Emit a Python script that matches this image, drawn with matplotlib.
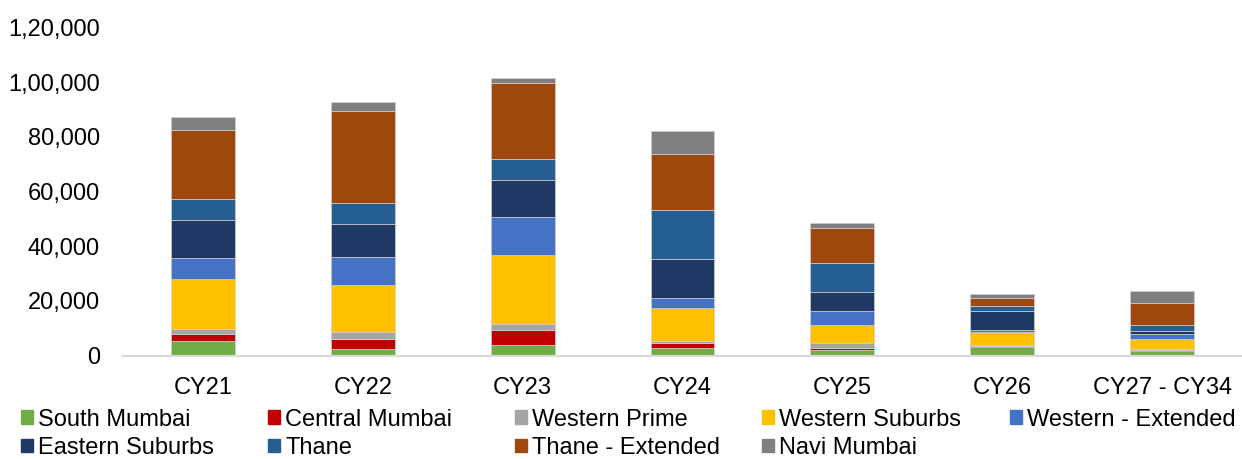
import matplotlib
matplotlib.use("Agg")
import matplotlib.pyplot as plt
from matplotlib.patches import Rectangle
from matplotlib.ticker import FuncFormatter, MultipleLocator
import numpy as np

plt.rcParams['font.family'] = ['Liberation Sans', 'DejaVu Sans']

years = ['CY21', 'CY22', 'CY23', 'CY24', 'CY25', 'CY26', 'CY27 - CY34']

south_mumbai = [5200, 2500, 3700, 2700, 2000, 3000, 1500]
central_mumbai = [2800, 3700, 5600, 1900, 800, 600, 600]
western_prime = [1800, 2300, 2300, 700, 1800, 100, 100]
western_suburbs = [18200, 17400, 25100, 11900, 6600, 4900, 3900]
western_extended = [7700, 10100, 13900, 3800, 4900, 600, 1600]
eastern_suburbs = [13800, 12000, 13400, 14300, 7000, 7100, 1400]
thane = [7700, 7700, 7700, 17800, 10600, 1800, 2200]
thane_extended = [25400, 33600, 28000, 20700, 13000, 3100, 7800]
navi_mumbai = [4500, 3500, 1700, 8300, 1800, 1400, 4600]

series_names = ['South Mumbai', 'Central Mumbai', 'Western Prime', 'Western Suburbs',
                'Western - Extended', 'Eastern Suburbs', 'Thane', 'Thane - Extended', 'Navi Mumbai']
series_values = [south_mumbai, central_mumbai, western_prime, western_suburbs, western_extended,
                 eastern_suburbs, thane, thane_extended, navi_mumbai]
colors = ['#70AD47', '#C00000', '#A5A5A5', '#FFC000', '#4472C4',
          '#203864', '#255E91', '#9E480E', '#7F7F7F']

fs = 17

fig = plt.figure(figsize=(12.42, 4.59), dpi=100)
ax = fig.add_axes([123 / 1242, 1 - 355.5 / 459, 1 - 123 / 1242, (355.5 - 27.3) / 459])

x = np.arange(len(years))
bottom = np.zeros(len(years))
for name, vals, c in zip(series_names, series_values, colors):
    ax.bar(x, vals, width=0.4, bottom=bottom, color=c, edgecolor='#d0d0d0', linewidth=0.5, label=name)
    bottom += np.array(vals)

def indian(v, pos):
    v = int(round(v))
    s = str(v)
    if len(s) <= 3:
        return s
    head, tail = s[:-3], s[-3:]
    parts = []
    while len(head) > 2:
        parts.insert(0, head[-2:])
        head = head[:-2]
    if head:
        parts.insert(0, head)
    return ','.join(parts + [tail])

ax.set_xlim(-0.5, len(years) - 0.5)
ax.set_ylim(0, 120000)
ax.yaxis.set_major_locator(MultipleLocator(20000))
ax.yaxis.set_major_formatter(FuncFormatter(indian))
ax.set_xticks(x)
ax.set_xticklabels(years)
ax.tick_params(axis='y', length=0, pad=16.5, labelsize=fs, colors='black')
ax.tick_params(axis='x', length=0, pad=15.5, labelsize=fs, colors='black')
for s in ['top', 'right', 'left']:
    ax.spines[s].set_visible(False)
ax.spines['bottom'].set_color('#d9d9d9')
ax.spines['bottom'].set_linewidth(1.5)

# legend laid out in equal-width columns like the original
handles = [Rectangle((0, 0), 1, 1, color=c) for c in colors]
col_x = [20.7, 268, 515, 762, 1010]
for i, cx in enumerate(col_x):
    idx = [i, i + 5] if i + 5 < len(series_names) else [i]
    leg = fig.legend([handles[j] for j in idx], [series_names[j] for j in idx],
                     loc='upper left', bbox_to_anchor=(cx / 1242, 1 - 408.5 / 459),
                     frameon=False, fontsize=fs, borderpad=0, borderaxespad=0,
                     handlelength=0.5, handleheight=0.5, handletextpad=0.22,
                     labelspacing=0.26)

fig.savefig('out.png', dpi=100)
